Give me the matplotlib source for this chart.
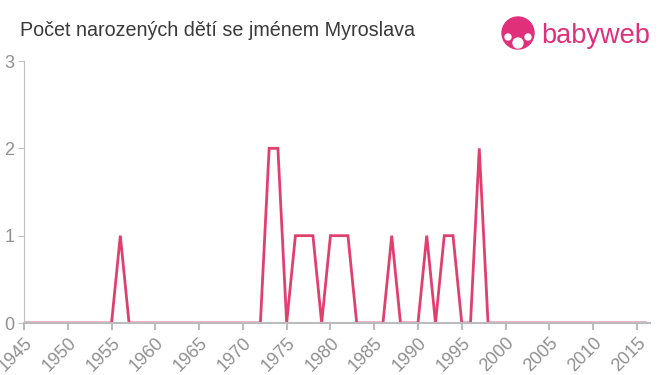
import numpy as np
import matplotlib.pyplot as plt
from matplotlib.patches import Circle

plt.rcParams['font.family'] = ['Liberation Sans', 'DejaVu Sans']

years = np.arange(1945, 2017)
births = np.zeros(len(years))
counts = {1956: 1, 1973: 2, 1974: 2, 1976: 1, 1977: 1, 1978: 1,
          1980: 1, 1981: 1, 1982: 1, 1987: 1, 1991: 1, 1993: 1, 1994: 1, 1997: 2}
for y, c in counts.items():
    births[years == y] = c

xticks = np.arange(1945, 2016, 5)
yticks = [0, 1, 2, 3]

fig = plt.figure(figsize=(6.6, 3.75), dpi=100)
ax = fig.add_axes([24/660, 52/375, 626/660, 262/375])
ax.plot(years, births, color="#e0406e", lw=2, solid_joinstyle="miter")
ax.set_xlim(1945, 2016.5)
ax.set_ylim(0, 3)
ax.set_xticks(xticks)
ax.set_xticklabels([str(t) for t in xticks], rotation=45, ha="right",
                   rotation_mode="anchor")
ax.set_yticks(yticks)
for s in ["top", "right"]:
    ax.spines[s].set_visible(False)
ax.spines["left"].set_color("#c0c0c0")
ax.spines["bottom"].set_color("#bbbbbb")
ax.spines["bottom"].set_linewidth(1.5)
ax.tick_params(axis="x", colors="#bbbbbb", labelcolor="#909090", labelsize=13,
               length=5, width=1.5, pad=3)
ax.tick_params(axis="y", colors="#c0c0c0", labelcolor="#909090", labelsize=13,
               length=4, pad=3)

fig.text(20/660, 1 - 31/375, "Počet narozených dětí se jménem Myroslava",
         fontsize=14.2, color="#3a3a3a", va="center")

# logo
lax = fig.add_axes([500/660, 1 - 52/375, 36/660, 40/375])
lax.set_xlim(0, 36)
lax.set_ylim(0, 40)
lax.axis("off")
lax.add_patch(Circle((18, 19), 16, color="#e0307a"))
lax.add_patch(Circle((18, 9), 5, color="white"))
lax.add_patch(Circle((8, 15), 3, color="white"))
lax.add_patch(Circle((28, 15), 3, color="white"))
fig.text(541/660, 1 - 36/375, "babyweb", fontsize=19.5, color="#e0307a",
         va="center", ha="left")

fig.savefig("out.png", dpi=100)
